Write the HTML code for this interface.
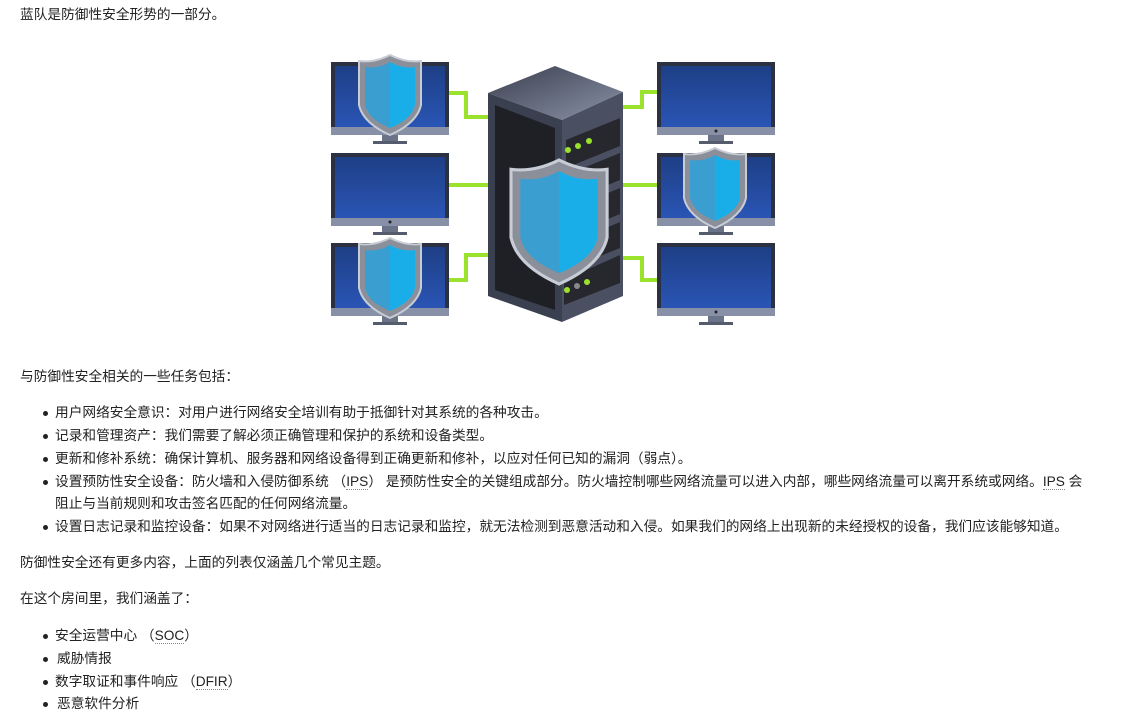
<!DOCTYPE html>
<html><head><meta charset="utf-8">
<style>
body{margin:0;width:1122px;height:713px;background:#fff;overflow:hidden;font-family:"Liberation Sans","Noto Sans CJK SC",sans-serif;font-size:13.7px;color:#222;position:relative}
.t{position:absolute;white-space:nowrap;line-height:18px}
.b{position:absolute;width:5px;height:5px;border-radius:50%;background:#222}
.u{border-bottom:1px dotted #888}
</style></head><body>
<div class="t" style="left:20px;top:6px">蓝队是防御性安全形势的一部分。</div>

<svg style="position:absolute;left:0;top:0" width="1122" height="340">
<defs>
<linearGradient id="sc" x1="0" y1="0" x2="0" y2="1"><stop offset="0" stop-color="#1e3f86"/><stop offset="1" stop-color="#2a55b5"/></linearGradient>
<linearGradient id="sh" x1="0" y1="0" x2="1" y2="0"><stop offset="0.5" stop-color="#3a9fd0"/><stop offset="0.5" stop-color="#1aaee8"/></linearGradient>
<linearGradient id="top" x1="0" y1="0" x2="1" y2="1"><stop offset="0" stop-color="#3a3f4e"/><stop offset="1" stop-color="#8b93a8"/></linearGradient>
<g id="mon">
<rect x="0" y="0" width="118" height="73" fill="#2b3140"/>
<rect x="4" y="4" width="110" height="61" fill="url(#sc)"/>
<rect x="0" y="65" width="118" height="8" fill="#8790a6"/>
<circle cx="59" cy="69" r="1.5" fill="#222"/>
<rect x="51" y="73" width="16" height="7" fill="#6b7388"/>
<rect x="42" y="79" width="34" height="3" fill="#555c6e"/>
</g>
<g id="shd">
<path d="M0,6 Q15,8 31,0 Q47,8 62,6 L62,50 Q58,68 31,80 Q4,68 0,50Z" fill="#8a8f9a" stroke="#c7ccd5" stroke-width="2"/>
<path d="M6,12 Q19,14 31,7 Q43,14 56,12 L56,50 Q53,64 31,73 Q9,64 6,50Z" fill="url(#sh)"/>
</g>
</defs>
<g fill="none" stroke="#9be22d" stroke-width="4">
<path d="M449,93 H466 V117 H490"/>
<path d="M449,185 H490"/>
<path d="M449,280 H466 V255 H490"/>
<path d="M620,107 H642 V92 H658"/>
<path d="M620,185 H658"/>
<path d="M620,258 H642 V280 H658"/>
</g>
<use href="#mon" x="331" y="62"/>
<use href="#mon" x="331" y="153"/>
<use href="#mon" x="331" y="243"/>
<use href="#mon" x="657" y="62"/>
<use href="#mon" x="657" y="153"/>
<use href="#mon" x="657" y="243"/>
<polygon points="488,93 555,66 623,92 562,120" fill="url(#top)"/>
<polygon points="488,93 562,120 562,322 488,296" fill="#3b4050"/>
<polygon points="562,120 623,92 623,296 562,322" fill="#4a5062"/>
<polygon points="495,105 555,128 555,310 495,290" fill="#1e2026"/>
<g fill="#26282e">
<polygon points="566,140 620,118 620,146 566,168"/>
<polygon points="566,175 620,153 620,180 566,202"/>
<polygon points="566,210 620,188 620,214 566,236"/>
<polygon points="566,245 620,222 620,248 566,270"/>
<polygon points="564,280 620,255 620,283 564,305"/>
</g>
<g fill="#9be22d"><circle cx="568" cy="150" r="3"/><circle cx="578" cy="146" r="3"/><circle cx="589" cy="141" r="3"/><circle cx="567" cy="290" r="3"/><circle cx="587" cy="282" r="3"/></g>
<circle cx="577" cy="286" r="3" fill="#888"/>
<use href="#shd" transform="translate(511,160) scale(1.55,1.55)"/>
<use href="#shd" x="359" y="55"/>
<use href="#shd" x="359" y="238"/>
<use href="#shd" x="684" y="148"/>
</svg>

<div class="t" style="left:20px;top:368px">与防御性安全相关的一些任务包括：</div>
<div class="b" style="left:43px;top:411px"></div><div class="t" style="left:55px;top:404px">用户网络安全意识：对用户进行网络安全培训有助于抵御针对其系统的各种攻击。</div>
<div class="b" style="left:43px;top:434px"></div><div class="t" style="left:55px;top:427px">记录和管理资产：我们需要了解必须正确管理和保护的系统和设备类型。</div>
<div class="b" style="left:43px;top:457px"></div><div class="t" style="left:55px;top:450px">更新和修补系统：确保计算机、服务器和网络设备得到正确更新和修补，以应对任何已知的漏洞（弱点）。</div>
<div class="b" style="left:43px;top:480px"></div><div class="t" style="left:55px;top:473px">设置预防性安全设备：防火墙和入侵防御系统 （<span class="u">IPS</span>） 是预防性安全的关键组成部分。防火墙控制哪些网络流量可以进入内部，哪些网络流量可以离开系统或网络。<span class="u">IPS</span> 会</div>
<div class="t" style="left:55px;top:495px">阻止与当前规则和攻击签名匹配的任何网络流量。</div>
<div class="b" style="left:43px;top:525px"></div><div class="t" style="left:55px;top:518px">设置日志记录和监控设备：如果不对网络进行适当的日志记录和监控，就无法检测到恶意活动和入侵。如果我们的网络上出现新的未经授权的设备，我们应该能够知道。</div>
<div class="t" style="left:20px;top:554px">防御性安全还有更多内容，上面的列表仅涵盖几个常见主题。</div>
<div class="t" style="left:20px;top:590px">在这个房间里，我们涵盖了：</div>
<div class="b" style="left:43px;top:634px"></div><div class="t" style="left:55px;top:627px">安全运营中心 （<span class="u">SOC</span>）</div>
<div class="b" style="left:43px;top:657px"></div><div class="t" style="left:57px;top:650px">威胁情报</div>
<div class="b" style="left:43px;top:680px"></div><div class="t" style="left:55px;top:673px">数字取证和事件响应 （<span class="u">DFIR</span>）</div>
<div class="b" style="left:43px;top:702px"></div><div class="t" style="left:57px;top:695px">恶意软件分析</div>
</body></html>
